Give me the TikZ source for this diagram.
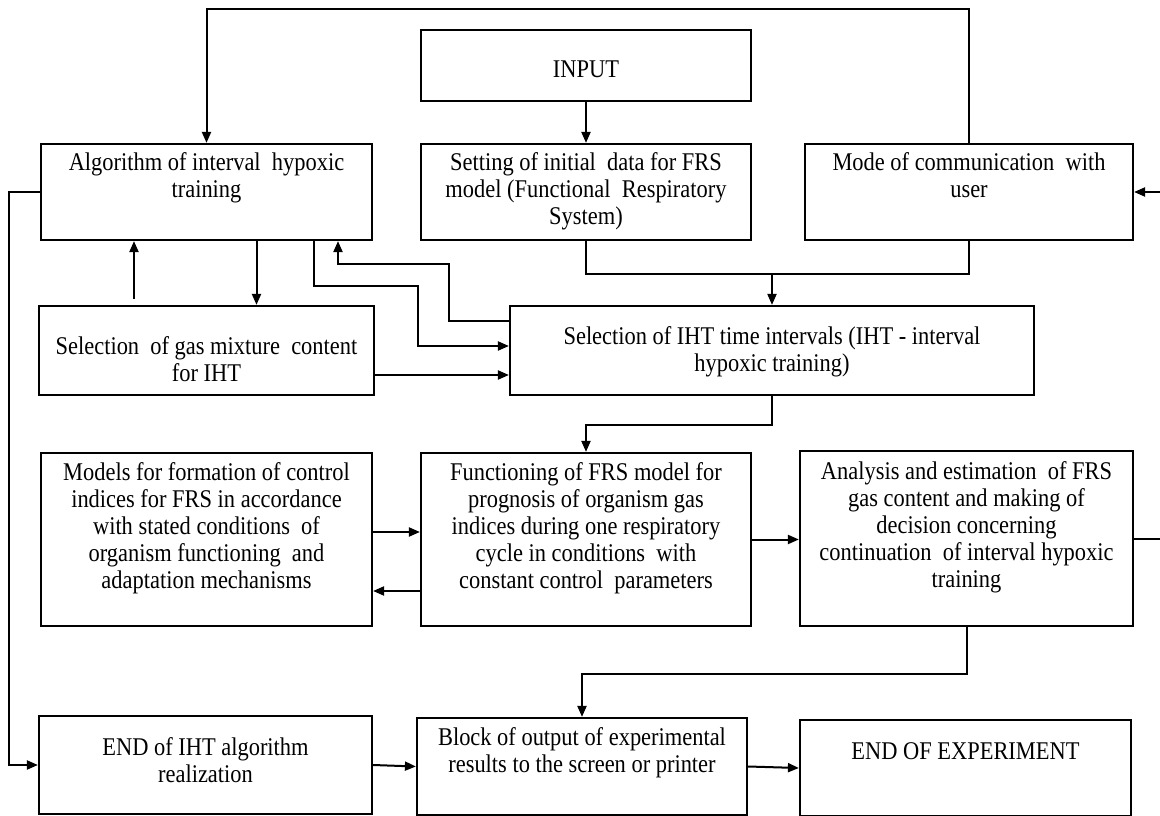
\documentclass[tikz,border=0pt]{standalone}
\usepackage{fontspec}
\setmainfont{Liberation Serif}[FakeStretch=0.88]
\usetikzlibrary{arrows.meta}

\newcommand{\blktext}[4]{\parbox[c][#2pt][t]{#1pt}{\centering\vspace*{#3pt}\strut #4}}

\tikzset{
  blk/.style={draw, line width=2.2pt, inner sep=0pt, font=\fontsize{25.5}{27}\selectfont},
  lin/.style={line width=2pt},
  arr/.style={line width=2pt, -{Triangle[length=11pt,width=9pt]}}
}

\begin{document}
\begin{tikzpicture}[x=1pt,y=-1pt]
\useasboundingbox (0,0) rectangle (1160,816);

% blocks
\node[blk] (input) at (586,65.5) {\blktext{330}{71}{29}{INPUT}};
\node[blk] (alg) at (206.5,192) {\blktext{331}{96}{8}{Algorithm of interval\ \ hypoxic\\training}};
\node[blk] (set) at (586,192) {\blktext{330}{96}{8}{Setting of initial\ \ data for FRS\\model (Functional\ \ Respiratory\\System)}};
\node[blk] (mode) at (969,192) {\blktext{328}{96}{8}{Mode of communication\ \ with\\user}};
\node[blk] (gas) at (206.5,350.5) {\blktext{335}{89}{30}{Selection\ \ of gas mixture\ \ content\\for IHT}};
\node[blk] (ihtsel) at (772,350.5) {\blktext{524}{89}{20}{Selection of IHT time intervals (IHT - interval\\hypoxic training)}};
\node[blk] (models) at (206.5,539.5) {\blktext{331}{173}{9}{Models for formation of control\\indices for FRS in accordance\\with stated conditions\ \ of\\organism functioning\ \ and\\adaptation mechanisms}};
\node[blk] (func) at (586,539.5) {\blktext{330}{173}{9}{Functioning of FRS model for\\prognosis of organism gas\\indices during one respiratory\\cycle in conditions\ \ with\\constant control\ \ parameters}};
\node[blk] (ana) at (966.5,538.5) {\blktext{333}{175}{10}{Analysis and estimation\ \ of FRS\\gas content and making of\\decision concerning\\continuation\ \ of interval hypoxic\\training}};
\node[blk] (endiht) at (205.5,765) {\blktext{333}{98}{21}{END of IHT algorithm\\realization}};
\node[blk] (outp) at (582,766.5) {\blktext{330}{97}{9}{Block of output of experimental\\results to the screen or printer}};
\node[blk] (endexp) at (965.5,768) {\blktext{331}{96}{21}{END OF EXPERIMENT}};

% free ends and junctions
\node[coordinate] (merge) at (772,273) {};
\node[coordinate] (rout) at (1160,538.5) {};
\node[coordinate] (rin) at (1160,192) {};

% feedback loop over the top
\draw[arr] (mode.north) -- ++(0,-134) -| (alg.north);
\draw[arr] (input) -- (set);

% into the time intervals block
\draw[lin] (set.south) -- ++(0,33) -| (mode.south);
\draw[arr] (merge) -- (ihtsel.north);
\draw[arr] ([xshift=-72.5pt,yshift=6pt]gas.north) -- ([xshift=-72.5pt]alg.south);
\draw[arr] ([xshift=50pt]alg.south) -- ([xshift=50pt]gas.north);
\draw[arr] ([xshift=107.5pt]alg.south) -- ++(0,45) -- ++(104,0) |- ([yshift=4.5pt]ihtsel.west);
\draw[arr] ([yshift=29.5pt]ihtsel.west) -- ++(-60,0) -- ++(0,-57) -| ([xshift=131.5pt]alg.south);
\draw[arr] ([yshift=-24.5pt]gas.east) -- ([yshift=-24.5pt]ihtsel.west);

% model loop
\draw[arr] (ihtsel.south) -- ++(0,29) -| (func.north);
\draw[arr] ([yshift=7.5pt]models.east) -- ([yshift=7.5pt]func.west);
\draw[arr] ([yshift=-51.5pt]func.west) -- ([yshift=-51.5pt]models.east);
\draw[arr] (func.east) -- (func.east -| ana.west);
\draw[lin] (ana.east) -- (rout);
\draw[arr] (rin) -- (mode.east);

% outputs
\draw[arr] (alg.west) -- ++(-31,0) |- (endiht.west);
\draw[arr] (ana.south) -- ++(0,47) -| (outp.north);
\draw[arr] (endiht.east) -- (outp.west);
\draw[arr] (outp.east) -- (endexp.west);
\end{tikzpicture}
\end{document}
